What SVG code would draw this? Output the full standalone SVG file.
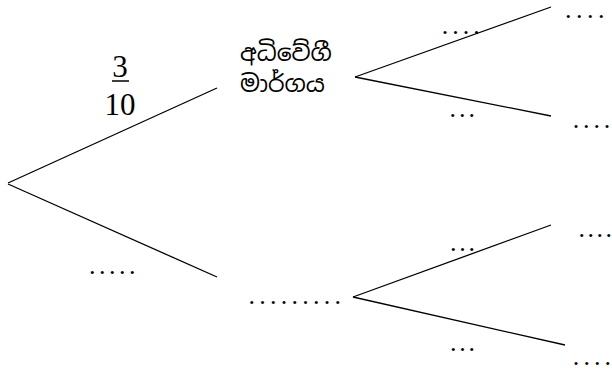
<svg xmlns="http://www.w3.org/2000/svg" width="612" height="370" viewBox="0 0 612 370">
<style>
.ln{stroke:#000;stroke-width:1.3;fill:none}
.d{font-family:"Liberation Serif","Times New Roman",serif;font-size:26px;fill:#000}
.f{font-family:"Liberation Serif","Times New Roman",serif;font-size:31px;fill:#000}
.si{font-family:"Noto Sans Sinhala","Iskoola Pota","Noto Sans","DejaVu Sans",sans-serif;font-size:23.5px;fill:#000}
</style>
<rect width="612" height="370" fill="#fff"/>
<g id="connectors">
<line class="ln" x1="8" y1="183" x2="217" y2="88"/>
<line class="ln" x1="8" y1="184" x2="217" y2="277"/>
<line class="ln" x1="355" y1="77" x2="551" y2="7"/>
<line class="ln" x1="355" y1="77" x2="551" y2="116"/>
<line class="ln" x1="353" y1="297" x2="551" y2="225"/>
<line class="ln" x1="353" y1="297" x2="565" y2="345"/>
</g>
<g id="prob-upper">
<text class="f" x="120" y="77" text-anchor="middle">3</text>
<line x1="112" y1="81" x2="129" y2="81" stroke="#000" stroke-width="1.5"/>
<text class="f" x="120" y="115" text-anchor="middle">10</text>
</g>
<g id="node-highway">
<text class="si" x="240" y="61">අධිවේගී</text>
<text class="si" x="240" y="92">මාර්ගය</text>
</g>
<g id="prob-lower"><text class="d" x="89" y="274" letter-spacing="3.5">.....</text></g>
<g id="node-lower"><text class="d" x="248.5" y="304" letter-spacing="4.25">.........</text></g>
<g id="prob-uu"><text class="d" x="441.8" y="34" letter-spacing="4">....</text></g>
<g id="prob-ud"><text class="d" x="449.5" y="116.5" letter-spacing="3">...</text></g>
<g id="leaf-uu"><text class="d" x="565 576 587 598" y="17.5">....</text></g>
<g id="leaf-ud"><text class="d" x="572.8 583.1 593.4 603.7" y="128">....</text></g>
<g id="prob-lu"><text class="d" x="450" y="250.5" letter-spacing="2.7">...</text></g>
<g id="prob-ld"><text class="d" x="450" y="350.5" letter-spacing="2.7">...</text></g>
<g id="leaf-lu"><text class="d" x="578.5 587.5 596.5 605.5" y="237">....</text></g>
<g id="leaf-ld"><text class="d" x="572.8 583.5 594 604.5" y="365">....</text></g>
</svg>
